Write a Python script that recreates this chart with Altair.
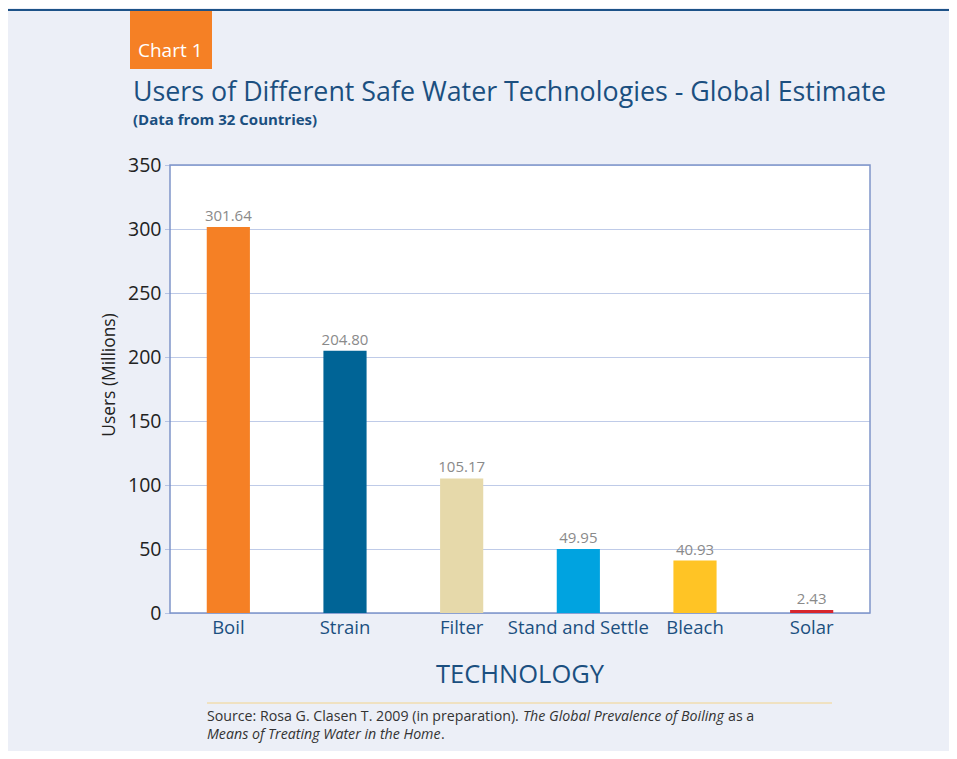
import altair as alt
import pandas as pd

technologies = ["Boil", "Strain", "Filter", "Stand and Settle", "Bleach", "Solar"]
users = [301.64, 204.80, 105.17, 49.95, 40.93, 2.43]
bar_colors = ["#F58025", "#006496", "#E6D9AA", "#00A3E0", "#FFC425", "#D7262E"]

title_text = "Users of Different Safe Water Technologies - Global Estimate"
subtitle_text = "(Data from 32 Countries)"
badge_text = "Chart 1"
x_title = "TECHNOLOGY"
y_title = "Users (Millions)"
source_plain_1 = "Source: Rosa G. Clasen T. 2009 (in preparation)."
source_italic_1 = "The Global Prevalence of Boiling"
source_plain_1b = "as a"
source_italic_2 = "Means of Treating Water in the Home"
source_plain_2 = "."

FONT = "Open Sans"
BLUE = "#1B4F80"
GRID = "#7F96D0"

df = pd.DataFrame({"tech": technologies, "users": users, "color": bar_colors})

x_enc = alt.X("tech:N", sort=technologies,
              scale=alt.Scale(paddingInner=0.63, paddingOuter=0.315),
              axis=alt.Axis(title=None, labelAngle=0, ticks=False, domain=False,
                            labelFont=FONT, labelFontSize=18.5, labelColor=BLUE,
                            labelPadding=5, grid=False))
y_enc = alt.Y("users:Q", scale=alt.Scale(domain=[0, 350]),
              axis=alt.Axis(title=None, values=[0, 50, 100, 150, 200, 250, 300, 350],
                            domain=False, grid=True, gridColor=GRID, gridDash=[1, 1],
                            gridWidth=1, tickColor=GRID, tickDash=[1, 1],
                            tickSize=6, labelFont=FONT, labelFontSize=19.5,
                            labelColor="#222222", labelPadding=3))

base = alt.Chart(df)

bars = base.mark_bar().encode(
    x=x_enc, y=y_enc,
    color=alt.Color("color:N", scale=None),
)

values = base.mark_text(font=FONT, fontSize=15, color="#8A8A8A", baseline="bottom", dy=-3).encode(
    x=alt.X("tech:N", sort=technologies), y="users:Q",
    text=alt.Text("users:Q", format=".2f"),
)

def txt(s, x, y, size, color, **kw):
    return alt.Chart(pd.DataFrame({"t": [s]})).mark_text(
        font=FONT, fontSize=size, color=color, align=kw.pop("align", "left"),
        baseline=kw.pop("baseline", "alphabetic"), **kw
    ).encode(x=alt.value(x), y=alt.value(y), text="t:N")

top_line = alt.Chart(pd.DataFrame({"a": [0]})).mark_rule(color="#1D5288", strokeWidth=2).encode(
    x=alt.value(-162), x2=alt.value(779), y=alt.value(-155))
badge = alt.Chart(pd.DataFrame({"a": [0]})).mark_rect(color="#F58025").encode(
    x=alt.value(-40), x2=alt.value(42), y=alt.value(-154), y2=alt.value(-96))
src_line = alt.Chart(pd.DataFrame({"a": [0]})).mark_rule(color="#F3D48C", strokeWidth=1).encode(
    x=alt.value(37), x2=alt.value(662), y=alt.value(538))

SRC = 14.2
layers = [
    top_line, badge,
    txt(badge_text, -32, -108, 19, "white"),
    txt(title_text, -37, -64, 26.8, BLUE),
    txt(subtitle_text, -37, -40, 15, BLUE, fontWeight="bold"),
    bars, values,
    txt(y_title, -60, 210, 17.4, "#222222", angle=270, align="center", baseline="middle"),
    txt(x_title, 350, 518, 25.5, BLUE, align="center"),
    src_line,
    txt(source_plain_1, 37, 556, SRC, "#333333"),
    txt(source_italic_1, 353, 556, SRC, "#333333", fontStyle="italic"),
    txt(source_plain_1b, 558, 556, SRC, "#333333"),
    txt(source_italic_2, 37, 574, SRC, "#333333", fontStyle="italic"),
    txt(source_plain_2, 271, 574, SRC, "#333333"),
]

chart = alt.layer(*layers).properties(
    width=700, height=448,
    autosize=alt.AutoSizeParams(type="none"),
    padding={"left": 162, "top": 157, "right": 79, "bottom": 138},
    background="#ECEFF7",
).configure_view(stroke="#7F95C9", strokeWidth=1.5, fill="white")

chart.save("out.html", embed_options={"renderer": "svg", "actions": False})
